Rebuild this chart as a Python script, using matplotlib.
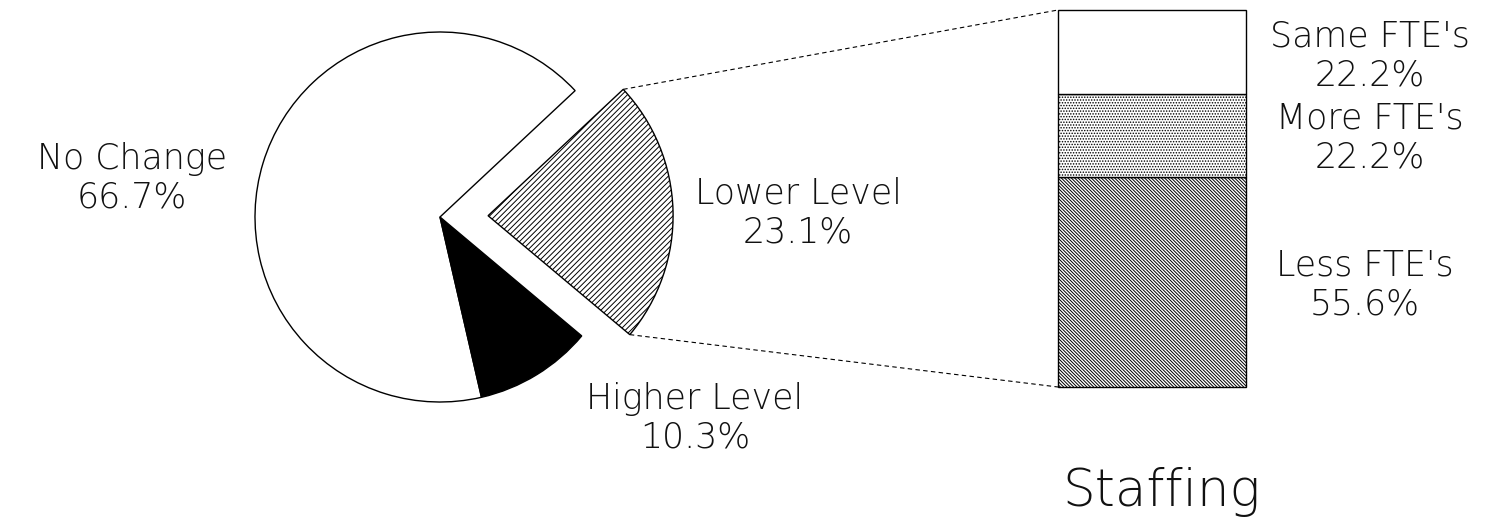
import numpy as np
import matplotlib
matplotlib.use("Agg")
import matplotlib.pyplot as plt

# level of change split (pie) and staffing split of the "Lower Level" slice (bar)
level_labels = ["Lower Level", "No Change", "Higher Level"]
level_pcts = [23.1, 66.7, 10.3]
staff_labels = ["Less FTE's", "More FTE's", "Same FTE's"]
staff_pcts = [55.6, 22.2, 22.2]

plt.rcParams["hatch.linewidth"] = 0.7
plt.rcParams["font.family"] = ["DejaVu Sans"]

W, H = 1496, 527
fig = plt.figure(figsize=(W / 100, H / 100), dpi=100)
ax = fig.add_axes([0, 0, 1, 1])

# pie, drawn in pixel units (explode is in data units here)
R = 185
wedges, _ = ax.pie(level_pcts, startangle=-40, counterclock=True,
                   explode=[0.26 * R, 0, 0], center=(440, 310), radius=R,
                   colors=["white", "white", "black"],
                   wedgeprops=dict(edgecolor="black", linewidth=1.0))
wedges[0].set_hatch("//////")

# stacked bar for the exploded slice
scale = 377 / sum(staff_pcts)
bottoms = np.concatenate([[0], np.cumsum(staff_pcts)[:-1]]) * scale + 140
bars = ax.bar([1152] * 3, np.array(staff_pcts) * scale, bottom=bottoms,
              width=188, color="white", edgecolor="black", linewidth=1.0)
bars[0].set_hatch("\\" * 10)
bars[1].set_hatch("......")

# connector lines from slice corners to bar corners
lw = wedges[0]
cx, cy = lw.center
for theta, by in [(lw.theta2, bars[-1].get_y() + bars[-1].get_height()),
                  (lw.theta1, bars[0].get_y())]:
    t = np.deg2rad(theta)
    ax.plot([cx + lw.r * np.cos(t), bars[0].get_x()],
            [cy + lw.r * np.sin(t), by],
            color="black", lw=0.8, ls=(0, (4, 3)))

ax.set_xlim(0, W)
ax.set_ylim(0, H)
ax.set_aspect("auto")
ax.axis("off")

fs = 25
txt = dict(ha="center", va="center", fontsize=fs, fontweight="light",
           linespacing=1.15, color="#111111")
ax.text(132, 527 - 178, f"No Change\n{level_pcts[1]}%", **txt)
ax.text(798, 527 - 213, f"Lower Level\n{level_pcts[0]}%", **txt)
ax.text(695, 527 - 418, f"Higher Level\n{level_pcts[2]}%", **txt)
ax.text(1370, 527 - 56, f"Same FTE's\n{staff_pcts[2]}%", **txt)
ax.text(1370, 527 - 138, f"More FTE's\n{staff_pcts[1]}%", **txt)
ax.text(1365, 527 - 285, f"Less FTE's\n{staff_pcts[0]}%", **txt)
ax.text(1162, 527 - 492, "Staffing", ha="center", va="center",
        fontsize=37, fontweight="light", color="#111111")

fig.savefig("out.png", dpi=100)
